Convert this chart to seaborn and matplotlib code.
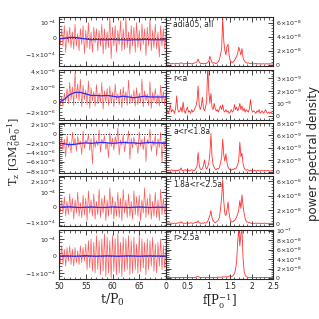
import numpy as np
import matplotlib
matplotlib.use("Agg")
import matplotlib.pyplot as plt
import seaborn as sns
from matplotlib.ticker import MultipleLocator, AutoMinorLocator

# time axis of the torque series and frequency axis of the spectra
t = np.arange(50, 70.001, 0.25)
t_smooth = np.arange(50, 71, 1.0)
freq = np.arange(0, 2.5001, 0.025)

region_labels = ["adia05, all", "r<a", "a<r<1.8a", "1.8a<r<2.5a", "r>2.5a"]

# torque T_z in units of torque_units (per row)
torque_units = [1e-4, 1e-6, 1e-6, 1e-4, 1e-4]
torque_all = [0.3, -0.4, 0.6, -0.5, 0.8, -0.9, 0.5, -0.3, 0.7, -0.6, 0.4, -0.7, 0.9, -0.5, 0.3, -0.8,
              0.6, -0.4, 0.8, -1.0, 0.5, -0.6, 1.0, -0.7, 0.4, -0.9, 0.7, -0.3, 0.6, -0.8, 0.5, -0.5,
              0.9, -1.0, 0.6, -0.7, 0.4, -0.6, 1.4, -1.3, 0.7, -0.5, 0.8, -0.9, 0.5, -0.4, 1.1, -0.8,
              0.6, -0.7, 1.3, -0.6, 0.4, -1.0, 0.8, -0.5, 0.7, -0.9, 1.0, -0.6, 0.5, -0.8, 0.9, -0.4,
              0.6, -1.1, 0.7, -0.5, 1.2, -0.8, 0.5, -0.6, 0.9, -0.7, 0.4, -1.2, 0.8, -0.5, 0.6, -0.7, 0.4]
torque_in = [0.2, -0.3, 0.8, -0.5, 1.2, 0.1, 1.8, -0.2, 2.6, 0.3, 2.0, -0.4, 3.9, 0.5, 2.4, 0.2,
             3.0, -0.6, 2.2, 0.4, 1.6, -0.3, 2.8, -0.8, 1.9, 0.2, 1.4, -0.5, 2.3, -0.2, 1.2, 0.0,
             2.6, -0.9, 1.5, 0.1, 1.8, -0.4, 2.1, -0.1, 1.3, -0.6, 2.4, 0.3, 1.1, -0.3, 1.7, -0.7,
             2.0, 0.2, 1.4, -0.4, 2.9, -0.2, 1.0, 0.1, 1.6, -0.5, 1.9, -0.3, 1.2, 0.0, 3.0, -0.6,
             1.5, 0.2, 1.1, -0.4, 2.7, -0.8, 1.3, 0.1, 1.8, -0.2, 1.0, -0.5, 2.2, 0.0, 1.4, -0.3, 1.0]
torque_mid = [-1.5, -2.8, -0.8, -3.5, -1.2, -5.0, -0.5, -3.0, -1.8, -4.2, 0.3, -2.6, -1.0, -3.8, -0.6, -2.4,
              -1.6, -4.5, 0.5, -3.2, -1.4, -2.0, -0.2, -3.6, -1.1, -6.5, -0.4, -3.0, -1.5, -2.6, 0.8, -4.0,
              -1.2, -2.2, -0.5, -3.4, -1.8, -5.2, 0.2, -2.8, -1.0, -3.6, -0.7, -2.3, 1.2, -4.6, -1.4, -2.5,
              -0.3, -3.9, -1.6, -2.1, 0.6, -5.5, -1.0, -3.1, -0.8, -2.4, -1.9, -4.3, 0.4, -2.7, -1.2, -3.5,
              -0.6, -6.0, -1.3, -2.2, 0.9, -3.8, -1.5, -2.6, -0.4, -4.8, -1.1, -3.0, 0.3, -6.2, -1.7, -2.9, -1.2]
torque_outer = [0.2, -0.3, 0.5, -0.4, 0.7, -0.6, 0.4, -0.5, 0.9, -0.3, 0.6, -0.8, 0.5, -0.4, 1.0, -0.6,
                0.3, -0.7, 0.8, -0.5, 0.6, -0.9, 1.1, -0.4, 0.5, -0.6, 0.9, -0.8, 0.4, -0.5, 1.2, -0.7,
                0.6, -0.4, 0.8, -0.9, 0.5, -0.6, 1.3, -0.5, 0.7, -0.8, 0.4, -0.6, 1.0, -0.7, 0.6, -0.9,
                1.2, -0.4, 0.5, -0.7, 0.9, -0.6, 0.4, -0.8, 1.1, -0.5, 0.7, -0.6, 0.8, -0.9, 0.5, -0.4,
                1.3, -0.7, 0.6, -0.5, 0.9, -0.8, 0.4, -0.6, 1.0, -0.7, 0.5, -0.9, 1.2, -0.5, 0.6, -0.4, 0.3]
torque_far = [0.3, -0.4, 0.6, -0.5, 0.4, -0.6, 0.5, -0.3, 0.6, -0.5, 0.4, -0.6, 0.5, -0.4, 0.3, -0.5,
              0.6, -0.4, 0.5, -0.3, 0.7, -0.8, 0.9, -0.7, 1.0, -0.9, 0.8, -1.0, 1.2, -0.8, 0.9, -1.1,
              1.0, -0.9, 1.3, -1.2, 1.1, -1.0, 0.9, -1.3, 1.2, -0.9, 1.0, -1.1, 1.3, -1.0, 0.8, -1.2,
              1.1, -0.9, 1.0, -0.8, 1.2, -1.1, 0.9, -1.0, 1.1, -0.8, 0.7, -1.0, 1.2, -0.9, 1.0, -0.7,
              0.8, -1.1, 1.0, -0.8, 0.9, -0.6, 1.1, -0.9, 0.7, -1.0, 0.8, -0.6, 1.0, -0.8, 0.6, -0.7, 0.5]
torque = [torque_all, torque_in, torque_mid, torque_outer, torque_far]

# running means (blue)
mean_all = [-0.05, 0.0, 0.05, 0.05, 0.0, -0.05, -0.1, -0.08, -0.1, -0.1, -0.08,
            -0.1, -0.1, -0.12, -0.1, -0.1, -0.08, -0.1, -0.1, -0.1, -0.1]
mean_in = [0.0, 0.4, 1.0, 1.3, 1.3, 1.1, 0.9, 0.9, 0.85, 0.9, 0.8,
           0.7, 0.8, 0.7, 0.6, 0.7, 0.8, 0.7, 0.7, 0.7, 0.7]
mean_mid = [-2.1, -2.2, -2.4, -2.3, -2.1, -2.0, -2.1, -2.0, -1.9, -2.0, -2.1,
            -2.0, -1.9, -2.0, -2.0, -2.1, -2.0, -1.9, -2.0, -2.0, -2.0]
mean_outer = [0.0, 0.02, 0.03, 0.0, -0.02, 0.0, 0.02, 0.0, -0.02, 0.0, 0.02,
              0.0, 0.0, -0.02, 0.0, 0.02, 0.0, -0.02, 0.0, 0.0, 0.0]
mean_far = [0.0, 0.01, 0.0, -0.01, 0.0, 0.02, 0.0, -0.01, 0.0, 0.01, 0.0,
            -0.01, 0.0, 0.01, 0.0, -0.01, 0.0, 0.01, 0.0, 0.0, 0.0]
torque_mean = [mean_all, mean_in, mean_mid, mean_outer, mean_far]

# power spectral density, in units of psd_units (per row)
psd_units = [1e-8, 1e-9, 1e-9, 1e-8, 1e-8]
psd_all = [0.1, 0.15, 0.1, 0.2, 0.15, 0.1, 0.2, 0.15, 0.1, 0.2,
           0.15, 0.2, 0.1, 0.15, 0.3, 0.2, 0.15, 0.1, 0.2, 0.15,
           0.1, 0.2, 0.15, 0.2, 0.1, 0.15, 0.2, 0.25, 0.3, 0.4,
           0.8, 0.4, 0.2, 0.15, 0.2, 0.1, 0.2, 0.15, 0.2, 0.3,
           0.5, 1.2, 0.7, 0.3, 0.2, 0.3, 0.2, 0.15, 0.3, 0.4,
           0.8, 1.5, 2.2, 6.6, 3.4, 2.0, 1.4, 2.6, 2.9, 1.3,
           0.6, 0.4, 0.3, 0.4, 0.6, 0.9, 1.2, 1.6, 2.5, 2.0,
           1.4, 2.3, 1.0, 0.6, 0.4, 0.3, 0.2, 0.25, 0.2, 0.15,
           0.2, 0.15, 0.1, 0.15, 0.2, 0.1, 0.15, 0.1, 0.15, 0.1,
           0.1, 0.15, 0.1, 0.1, 0.15, 0.1, 0.1, 0.15, 0.1, 0.1, 0.1]
psd_in = [0.3, 0.5, 0.2, 0.4, 0.9, 0.3, 0.5, 0.4, 0.2, 0.6,
          1.6, 0.5, 0.3, 0.4, 0.7, 0.3, 1.1, 0.4, 0.2, 0.5,
          0.7, 0.3, 0.4, 0.2, 0.5, 0.3, 0.4, 0.6, 0.8, 1.2,
          2.4, 0.9, 0.5, 0.8, 1.5, 0.6, 0.4, 0.7, 1.2, 4.0,
          2.0, 1.0, 1.8, 0.7, 0.5, 1.0, 0.6, 0.4, 0.5, 0.3,
          0.6, 0.8, 0.5, 0.9, 0.4, 0.3, 0.5, 0.3, 0.4, 0.2,
          0.3, 0.5, 0.3, 0.4, 0.9, 0.5, 0.7, 0.4, 0.6, 1.0,
          0.5, 0.8, 0.4, 0.6, 0.3, 0.5, 0.4, 0.3, 0.6, 1.3,
          0.5, 0.3, 0.4, 0.3, 0.2, 0.4, 0.3, 0.5, 0.2, 0.3,
          0.4, 0.2, 0.3, 0.5, 0.3, 0.2, 0.3, 0.2, 0.3, 0.2, 0.2]
psd_mid = [0.2, 0.3, 0.2, 0.3, 0.2, 0.4, 0.3, 0.2, 0.3, 0.2,
           0.3, 0.2, 0.4, 0.3, 0.7, 0.3, 0.2, 0.3, 0.4, 0.3,
           0.2, 0.3, 0.2, 0.3, 0.4, 0.3, 0.2, 0.4, 0.6, 1.0,
           3.2, 1.2, 0.5, 0.4, 0.6, 1.1, 2.0, 0.8, 0.5, 0.9,
           1.5, 3.0, 6.3, 2.6, 1.2, 0.8, 0.5, 0.4, 0.6, 0.5,
           0.8, 1.6, 2.4, 5.4, 2.8, 1.8, 3.0, 1.5, 0.8, 0.5,
           0.4, 0.3, 0.5, 0.4, 0.6, 0.5, 0.8, 1.2, 2.0, 4.9,
           2.5, 3.1, 1.4, 0.7, 0.4, 0.3, 0.4, 0.3, 0.2, 0.3,
           0.2, 0.3, 0.2, 0.3, 0.2, 0.2, 0.3, 0.2, 0.2, 0.3,
           0.2, 0.2, 0.3, 0.2, 0.2, 0.3, 0.2, 0.2, 0.2, 0.2, 0.2]
psd_outer = [0.1, 0.15, 0.1, 0.2, 0.1, 0.15, 0.1, 0.1, 0.15, 0.1,
             0.1, 0.15, 0.2, 0.15, 0.35, 0.2, 0.1, 0.15, 0.1, 0.15,
             0.1, 0.15, 0.1, 0.2, 0.15, 0.1, 0.15, 0.2, 0.3, 0.2,
             0.45, 0.2, 0.15, 0.1, 0.15, 0.1, 0.2, 0.15, 0.2, 0.4,
             0.8, 1.2, 1.9, 0.9, 0.5, 0.3, 0.2, 0.3, 0.4, 0.6,
             1.0, 2.2, 3.8, 6.2, 3.2, 1.5, 1.2, 2.0, 3.1, 1.5,
             0.6, 0.4, 0.3, 0.4, 0.5, 0.7, 1.0, 1.4, 2.0, 3.3,
             2.2, 4.1, 2.6, 1.5, 0.8, 0.4, 0.3, 0.2, 0.2, 0.15,
             0.1, 0.15, 0.1, 0.1, 0.15, 0.1, 0.1, 0.15, 0.1, 0.1,
             0.1, 0.1, 0.15, 0.1, 0.1, 0.1, 0.1, 0.1, 0.1, 0.1, 0.1]
psd_far = [0.1, 0.1, 0.15, 0.1, 0.1, 0.15, 0.1, 0.1, 0.1, 0.15,
           0.1, 0.1, 0.15, 0.1, 0.1, 0.1, 0.15, 0.1, 0.1, 0.1,
           0.1, 0.15, 0.1, 0.1, 0.1, 0.1, 0.15, 0.1, 0.2, 0.3,
           0.4, 0.2, 0.1, 0.1, 0.15, 0.1, 0.1, 0.1, 0.15, 0.1,
           0.1, 0.15, 0.1, 0.1, 0.15, 0.1, 0.1, 0.1, 0.15, 0.2,
           0.2, 0.15, 0.2, 0.3, 0.2, 0.25, 0.3, 0.2, 0.3, 0.4,
           0.5, 0.3, 0.4, 0.6, 1.0, 1.8, 3.5, 7.5, 10.5, 6.8,
           9.2, 10.3, 4.2, 1.5, 0.6, 0.3, 0.2, 0.15, 0.1, 0.1,
           0.1, 0.1, 0.15, 0.1, 0.1, 0.1, 0.1, 0.1, 0.1, 0.1,
           0.1, 0.1, 0.1, 0.1, 0.1, 0.1, 0.1, 0.1, 0.1, 0.1, 0.1]
psd = [psd_all, psd_in, psd_mid, psd_outer, psd_far]

# axis ranges and ticks (in the same units as the data)
left_ylim = [(-1.8, 1.35), (-2.25, 4.2), (-8.4, 2.2), (-1.25, 2.07), (-1.35, 1.55)]
left_ticks = [[-1, 0, 1], [-2, 0, 2, 4], [-8, -6, -4, -2, 0, 2], [-1, 0, 1, 2], [-1, 0, 1]]
left_exp = [-4, -6, -6, -4, -4]
right_ylim = [(-0.25, 6.8), (-0.3, 3.67), (-0.1, 8.0), (-0.25, 6.7), (-0.2, 10.2)]
right_ticks = [[0, 2, 4, 6], [0, 1, 2, 3], [0, 2, 4, 6, 8], [0, 2, 4, 6], [0, 2, 4, 6, 8, 10]]
right_exp = [-8, -9, -9, -8, -8]


def sci_label(m, e):
    if m == 0:
        return "0"
    # fold e.g. 10x10^-8 into 10^-7
    while abs(m) >= 10:
        m, e = m / 10, e + 1
    if m == 1:
        return r"$10^{%d}$" % e
    if m == -1:
        return r"$-1\!\times\!10^{%d}$" % e
    return r"$%g\!\times\!10^{%d}$" % (m, e)


sns.set_style("ticks")
plt.rcParams["font.family"] = ["DejaVu Sans"]
plt.rcParams["mathtext.default"] = "regular"

fig, axes = plt.subplots(5, 2, figsize=(3.19, 3.19), dpi=100,
                         gridspec_kw=dict(left=59 / 319, right=273 / 319, top=1 - 17 / 319,
                                          bottom=1 - 279 / 319, wspace=0, hspace=0.075))

for i in range(5):
    axl, axr = axes[i, 0], axes[i, 1]
    su = torque_units[i]
    pu = psd_units[i]

    axl.axhline(0, color="black", ls=":", lw=0.7)
    sns.lineplot(x=t, y=np.array(torque[i]) * su, ax=axl, color="#ff3030", lw=0.5, alpha=0.8)
    sns.lineplot(x=t_smooth, y=np.array(torque_mean[i]) * su, ax=axl, color="#2b2bff", lw=0.9)
    axl.set_xlim(50, 70)
    axl.set_ylim(left_ylim[i][0] * su, left_ylim[i][1] * su)
    axl.set_yticks([v * su for v in left_ticks[i]])
    axl.set_yticklabels([sci_label(v, left_exp[i]) for v in left_ticks[i]])
    axl.xaxis.set_major_locator(MultipleLocator(5))
    axl.xaxis.set_minor_locator(MultipleLocator(1))
    axl.yaxis.set_minor_locator(AutoMinorLocator(5))

    sns.lineplot(x=freq, y=np.array(psd[i]) * pu, ax=axr, color="#ff1a1a", lw=0.6, alpha=0.9)
    axr.set_xlim(0, 2.5)
    axr.set_ylim(right_ylim[i][0] * pu, right_ylim[i][1] * pu)
    axr.set_yticks([v * pu for v in right_ticks[i]])
    axr.set_yticklabels([sci_label(v, right_exp[i]) for v in right_ticks[i]])
    axr.xaxis.set_major_locator(MultipleLocator(0.5))
    axr.xaxis.set_minor_locator(MultipleLocator(0.1))
    axr.yaxis.set_minor_locator(AutoMinorLocator(5))
    axr.text(0.07, 0.84, region_labels[i], transform=axr.transAxes, fontsize=5.5,
             ha="left", va="center")

    for ax in (axl, axr):
        ax.set_xlabel("")
        ax.set_ylabel("")
        ax.tick_params(which="both", direction="in", top=True, bottom=True, left=True, right=True,
                       labelsize=4.5, pad=2)
        ax.tick_params(which="major", length=3.5, width=0.6)
        ax.tick_params(which="minor", length=1.8, width=0.5)
        for s in ax.spines.values():
            s.set_linewidth(0.8)
    axr.tick_params(axis="y", labelleft=False, labelright=True)
    if i < 4:
        axl.tick_params(axis="x", labelbottom=False)
        axr.tick_params(axis="x", labelbottom=False)

# labels that sit on a panel edge next to the neighbouring panel: nudge inwards
axes[1, 0].get_yticklabels()[0].set_va("bottom")
axes[3, 0].get_yticklabels()[-1].set_va("top")

axes[4, 0].set_xticks([50, 55, 60, 65, 70])
axes[4, 0].set_xticklabels(["50", "55", "60", "65", ""])
axes[4, 1].set_xticks([0, 0.5, 1, 1.5, 2, 2.5])
axes[4, 1].set_xticklabels(["0", "0.5", "1", "1.5", "2", "2.5"])
for ax in axes[4]:
    ax.tick_params(axis="x", labelsize=5.5)

fig.text(112 / 319, 1 - 300 / 319, r"t/P$_0$", ha="center", va="center", fontsize=9,
         family="DejaVu Serif")
fig.text(220 / 319, 1 - 301 / 319, r"f[P$_0^{-1}$]", ha="center", va="center", fontsize=8.5,
         family="DejaVu Serif")
fig.text(14 / 319, 1 - 151 / 319, r"T$_z$ [GM$_0^2$a$_0^{-1}$]", ha="center", va="center",
         rotation=90, fontsize=8, family="DejaVu Serif")
fig.text(313 / 319, 1 - 153 / 319, "power spectral density", ha="center", va="center",
         rotation=90, fontsize=8.5)

fig.savefig("out.png", dpi=100)
